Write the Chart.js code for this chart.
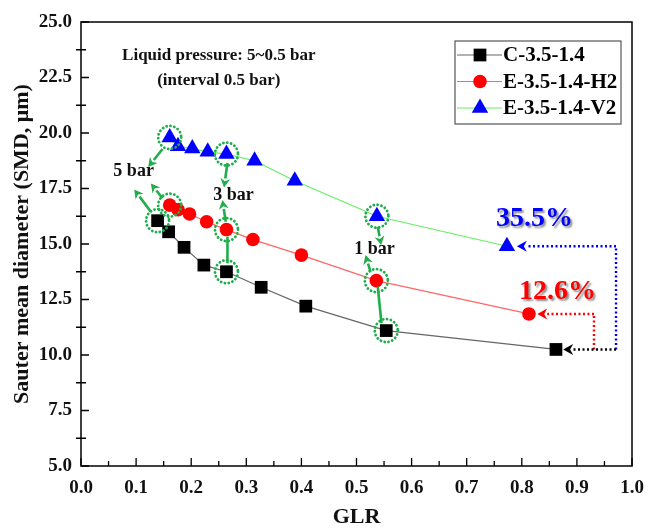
<!DOCTYPE html>
<html lang="en">
<head>
<meta charset="UTF-8">
<title>SMD vs GLR</title>
<script src="https://cdn.jsdelivr.net/npm/chart.js@4.4.0/dist/chart.umd.min.js"></script>
<style>
  html, body { margin: 0; background: #fff; }
  #smdChart { display: block; }
</style>
</head>
<body>
<canvas id="smdChart" width="651" height="531"></canvas>
<script>
  // GLR / SMD pairs, liquid pressure 5 -> 0.5 bar
  const seriesNames = ['C-3.5-1.4', 'E-3.5-1.4-H2', 'E-3.5-1.4-V2'];
  const glrC = [0.139, 0.159, 0.187, 0.223, 0.264, 0.327, 0.408, 0.554, 0.862];
  const smdC = [16.05, 15.55, 14.85, 14.05, 13.75, 13.05, 12.2, 11.1, 10.25];
  const glrH2 = [0.161, 0.176, 0.197, 0.228, 0.264, 0.312, 0.400, 0.536, 0.813];
  const smdH2 = [16.75, 16.55, 16.35, 16.0, 15.65, 15.2, 14.5, 13.35, 11.85];
  const glrV2 = [0.161, 0.176, 0.202, 0.230, 0.264, 0.315, 0.388, 0.537, 0.773];
  const smdV2 = [19.8, 19.4, 19.3, 19.15, 19.05, 18.75, 17.85, 16.25, 14.9];
  const gainLabels = ['35.5%', '12.6%'];
  const pressureLabels = ['5 bar', '3 bar', '1 bar'];
  const circledIdx = [0, 4, 7]; // 5, 3 and 1 bar points

  const serif = '"Liberation Serif", "Times New Roman", serif';
  const green = '#1fae4b';

  const pts = (xs, ys) => xs.map((x, i) => ({ x: x, y: ys[i] }));

  function arrow(ctx, x1, y1, x2, y2, color, width, head) {
    const a = Math.atan2(y2 - y1, x2 - x1);
    const bx = x2 - head * Math.cos(a), by = y2 - head * Math.sin(a);
    ctx.strokeStyle = color;
    ctx.lineWidth = width;
    ctx.beginPath();
    ctx.moveTo(x1, y1);
    ctx.lineTo(bx, by);
    ctx.stroke();
    ctx.setLineDash([]);
    ctx.fillStyle = color;
    ctx.beginPath();
    ctx.moveTo(x2, y2);
    ctx.lineTo(bx + head * 0.55 * Math.sin(a), by - head * 0.55 * Math.cos(a));
    ctx.lineTo(bx + head * 0.3 * Math.cos(a), by + head * 0.3 * Math.sin(a));
    ctx.lineTo(bx - head * 0.55 * Math.sin(a), by + head * 0.55 * Math.cos(a));
    ctx.closePath();
    ctx.fill();
  }

  const extras = {
    id: 'extras',
    afterDatasetsDraw(chart) {
      const { ctx, chartArea: area, scales: { x: xs, y: ys } } = chart;
      const px = v => xs.getPixelForValue(v);
      const py = v => ys.getPixelForValue(v);
      ctx.save();

      // frame
      ctx.strokeStyle = '#000';
      ctx.lineWidth = 1.5;
      ctx.strokeRect(area.left, area.top, area.right - area.left, area.bottom - area.top);

      // inward ticks
      ctx.lineWidth = 1.3;
      ctx.beginPath();
      for (let i = 0; i <= 10; i++) {
        const x = px(i / 10);
        ctx.moveTo(x, area.bottom); ctx.lineTo(x, area.bottom - 8);
        if (i < 10) {
          const xm = px(i / 10 + 0.05);
          ctx.moveTo(xm, area.bottom); ctx.lineTo(xm, area.bottom - 5);
        }
      }
      for (let v = 5; v <= 25; v += 2.5) {
        const y = py(v);
        ctx.moveTo(area.left, y); ctx.lineTo(area.left + 8, y);
        if (v < 25) {
          const ym = py(v + 1.25);
          ctx.moveTo(area.left - 5, ym); ctx.lineTo(area.left + 5, ym);
        }
      }
      ctx.stroke();

      // dotted circles round the 5, 3 and 1 bar points
      ctx.strokeStyle = green;
      ctx.lineWidth = 2.8;
      ctx.lineCap = 'round';
      ctx.setLineDash([0.1, 3.8]);
      chart.data.datasets.forEach((ds, d) => {
        const meta = chart.getDatasetMeta(d);
        circledIdx.forEach(j => {
          const p = meta.data[j];
          ctx.beginPath();
          ctx.arc(p.x, p.y, 11.5, 0, Math.PI * 2);
          ctx.stroke();
        });
      });
      ctx.setLineDash([]);
      ctx.lineCap = 'butt';

      // pressure arrows
      const greenArrows = [
        [0.148, 19.28, 0.1219, 18.47],
        [0.1268, 16.45, 0.0966, 17.46],
        [0.148, 17.06, 0.1268, 17.73],
        [0.2658, 18.65, 0.2596, 17.55],
        [0.2627, 16.0, 0.2567, 16.98],
        [0.5386, 15.78, 0.5447, 14.95],
        [0.5254, 13.75, 0.5163, 14.5]
      ];
      greenArrows.forEach(a => arrow(ctx, px(a[0]), py(a[1]), px(a[2]), py(a[3]), green, 2.6, 9));
      const greenLinks = [
        [0.2658, 14.13, 0.2658, 15.33],
        [0.5453, 11.43, 0.5386, 13.08]
      ];
      ctx.strokeStyle = green;
      ctx.lineWidth = 2.6;
      greenLinks.forEach(l => {
        ctx.beginPath();
        ctx.moveTo(px(l[0]), py(l[1]));
        ctx.lineTo(px(l[2]), py(l[3]));
        ctx.stroke();
      });

      // pressure labels
      ctx.fillStyle = '#111';
      ctx.font = 'bold 18px ' + serif;
      ctx.textAlign = 'center';
      ctx.textBaseline = 'middle';
      const labelAt = [[0.0955, 18.26], [0.2766, 17.21], [0.5326, 14.76]];
      pressureLabels.forEach((t, i) => ctx.fillText(t, px(labelAt[i][0]), py(labelAt[i][1])));

      ctx.font = 'bold 17px ' + serif;
      ctx.fillText('Liquid pressure: 5~0.5 bar', px(0.25), py(23.5));
      ctx.fillText('(interval 0.5 bar)', px(0.25), py(22.34));

      // dotted reduction arrows from the C-3.5-1.4 end point
      const yC = smdC[smdC.length - 1];
      const yH = smdH2[smdH2.length - 1];
      const yV = smdV2[smdV2.length - 1];
      ctx.lineWidth = 2.4;
      ctx.setLineDash([2, 2.5]);
      ctx.strokeStyle = '#0000ff';
      ctx.beginPath();
      ctx.moveTo(px(0.971), py(yC));
      ctx.lineTo(px(0.971), py(yV));
      ctx.stroke();
      ctx.setLineDash([2, 2.5]);
      arrow(ctx, px(0.971), py(yV), px(0.791), py(yV), '#0000ff', 2.4, 10);
      ctx.setLineDash([2, 2.5]);
      ctx.strokeStyle = '#ff0000';
      ctx.beginPath();
      ctx.moveTo(px(0.931), py(yC));
      ctx.lineTo(px(0.931), py(yH));
      ctx.stroke();
      ctx.setLineDash([2, 2.5]);
      arrow(ctx, px(0.931), py(yH), px(0.828), py(yH), '#ff0000', 2.4, 10);
      ctx.setLineDash([2, 2.5]);
      arrow(ctx, px(0.971), py(yC), px(0.875), py(yC), '#000', 2.4, 10);
      ctx.setLineDash([]);

      // percentage labels
      ctx.font = 'bold 28px ' + serif;
      ctx.shadowColor = 'rgba(0,0,0,0.45)';
      ctx.shadowOffsetX = 2;
      ctx.shadowOffsetY = 2;
      ctx.shadowBlur = 2;
      ctx.fillStyle = '#0000ff';
      ctx.fillText(gainLabels[0], px(0.823), py(16.13));
      ctx.fillStyle = '#ff0000';
      ctx.fillText(gainLabels[1], px(0.865), py(12.84));
      ctx.shadowColor = 'transparent';

      // legend
      const bx = area.right - 177, by = area.top + 19, bw = 166, bh = 83;
      ctx.fillStyle = '#fff';
      ctx.fillRect(bx, by, bw, bh);
      ctx.strokeStyle = '#555';
      ctx.lineWidth = 1.2;
      ctx.strokeRect(bx, by, bw, bh);
      ctx.font = 'bold 21px ' + serif;
      ctx.textAlign = 'left';
      chart.data.datasets.forEach((ds, i) => {
        const ry = by + 14 + i * 26.5;
        ctx.strokeStyle = ds.borderColor;
        ctx.lineWidth = 1.2;
        ctx.beginPath();
        ctx.moveTo(bx + 2, ry);
        ctx.lineTo(bx + 47, ry);
        ctx.stroke();
        ctx.fillStyle = ds.pointBackgroundColor;
        ctx.strokeStyle = ds.pointBackgroundColor;
        Chart.helpers.drawPoint(ctx, {
          pointStyle: ds.pointStyle, radius: ds.pointRadius, rotation: 0, borderWidth: 0
        }, bx + 25, ry);
        ctx.fillStyle = '#000';
        ctx.fillText(ds.label, bx + 48, ry + 1);
      });

      ctx.restore();
    }
  };

  const tickFont = { family: serif, size: 19, weight: 'bold' };
  const titleFont = { family: serif, size: 22, weight: 'bold' };

  new Chart(document.getElementById('smdChart'), {
    type: 'line',
    data: {
      datasets: [{
        label: seriesNames[0],
        data: pts(glrC, smdC),
        borderColor: '#666666',
        borderWidth: 1.2,
        pointStyle: 'rect',
        pointRadius: 9,
        pointBackgroundColor: '#000',
        pointBorderWidth: 0
      }, {
        label: seriesNames[1],
        data: pts(glrH2, smdH2),
        borderColor: '#ff6666',
        borderWidth: 1.2,
        pointStyle: 'circle',
        pointRadius: 6.8,
        pointBackgroundColor: '#ff0000',
        pointBorderWidth: 0
      }, {
        label: seriesNames[2],
        data: pts(glrV2, smdV2),
        borderColor: '#66ee66',
        borderWidth: 1.2,
        pointStyle: 'triangle',
        pointRadius: 9.5,
        pointBackgroundColor: '#0000ff',
        pointBorderWidth: 0
      }]
    },
    options: {
      responsive: false,
      animation: false,
      layout: { padding: { top: 22, right: 19, left: 0, bottom: 0 } },
      plugins: { legend: { display: false }, tooltip: { enabled: false } },
      scales: {
        x: {
          type: 'linear',
          min: 0,
          max: 1,
          grid: { display: false, drawTicks: false },
          border: { display: false },
          ticks: { stepSize: 0.1, color: '#111', font: tickFont, padding: 11,
                   callback: v => v.toFixed(1) },
          title: { display: true, text: 'GLR', color: '#111', font: titleFont,
                   padding: { top: 0, bottom: 0 } },
          afterFit: s => { s.height = 65; s.paddingLeft = 0; s.paddingRight = 0; }
        },
        y: {
          min: 5,
          max: 25,
          grid: { display: false, drawTicks: false },
          border: { display: false },
          ticks: { stepSize: 2.5, color: '#111', font: tickFont, padding: 9,
                   callback: v => v.toFixed(1) },
          title: { display: true, text: 'Sauter mean diameter (SMD, \u03bcm)', color: '#111',
                   font: titleFont, padding: { top: 9, bottom: 0 } },
          afterFit: s => { s.width = 81; }
        }
      }
    },
    plugins: [extras]
  });
</script>
</body>
</html>
